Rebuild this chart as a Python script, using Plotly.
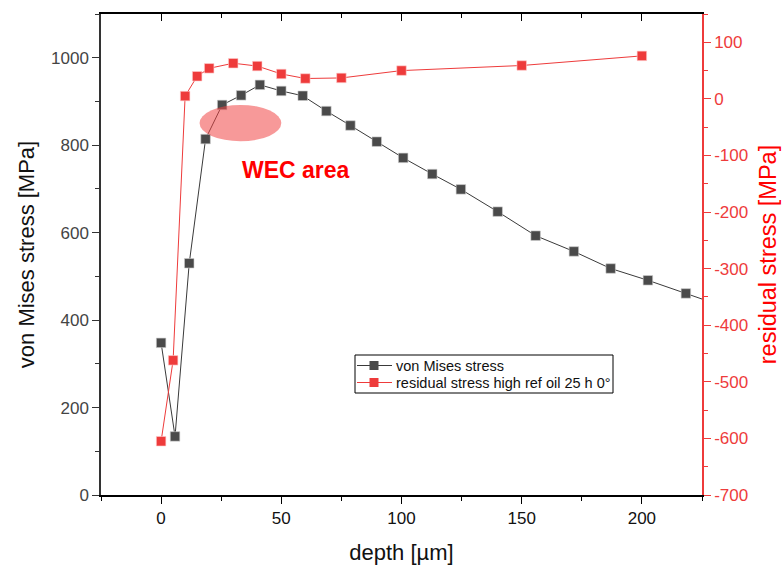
import plotly.graph_objects as go

# von Mises stress (left axis)
vm_depth = [0, 5.8, 11.7, 18.5, 25.4, 33.3, 41.1, 50, 58.9, 68.75, 78.75, 89.7,
            100.7, 112.8, 124.7, 140, 155.8, 171.7, 187, 202.5, 218.3, 234]
vm_stress = [348, 134, 530, 814, 892, 914, 938, 924, 913, 878, 845, 808,
             771, 734, 699, 648, 593, 557, 518, 491, 461, 431]

# residual stress (right axis)
rs_depth = [0, 5, 10, 15, 20, 30, 40, 50, 60, 75, 100, 150, 200]
rs_stress = [-605, -462, 5, 40, 54, 63, 58, 44, 36, 37, 50, 59, 76]

series_names = ["von Mises stress", "residual stress high ref oil 25 h 0°"]

x_range = [-25, 225]
y_left_range = [0, 1100]
y_right_range = [-700, 150]
right_tickvals = [-700, -600, -500, -400, -300, -200, -100, 0, 100]
right_ticktext = ["-700", "-600", "-500", "-400", "-300", "-200", "-100", "0", "100"]

RED = "#ee3b3b"
GRAY = "#4a4a4a"
FONT = "Liberation Sans, Arial, sans-serif"

W, H = 784, 565
ML, MR, MT, MB = 101, 82, 14, 70
PW, PH = W - ML - MR, H - MT - MB


def px(xp):
    return (xp - ML) / PW


def py(yp):
    return (H - MB - yp) / PH


fig = go.Figure()

fig.add_trace(go.Scatter(
    x=vm_depth, y=vm_stress, name=series_names[0], mode="lines+markers",
    line=dict(color="#3a3a3a", width=1),
    marker=dict(symbol="square", size=9.5, color=GRAY, line=dict(width=0.6, color="#cccccc")),
    cliponaxis=True, xaxis="x", yaxis="y", showlegend=False))

fig.add_trace(go.Scatter(
    x=rs_depth, y=rs_stress, name=series_names[1], mode="lines+markers",
    line=dict(color=RED, width=1),
    marker=dict(symbol="square", size=9.5, color=RED, line=dict(width=0.6, color="#ffcccc")),
    cliponaxis=True, xaxis="x", yaxis="y2", showlegend=False))

# dummy trace for top tick axis
fig.add_trace(go.Scatter(x=[None], y=[None], xaxis="x2", yaxis="y", showlegend=False, hoverinfo="skip"))

fig.add_shape(type="circle", xref="x", yref="y", x0=16, x1=50, y0=809, y1=892,
              fillcolor="rgba(240,70,70,0.55)", line=dict(width=0), layer="above")

fig.add_annotation(x=56.2, y=744, xref="x", yref="y", text="<b>WEC area</b>",
                   showarrow=False, font=dict(family=FONT, size=23, color="#ff0000"))

# manual legend (box, sample lines, markers, texts)
fig.add_shape(type="rect", xref="paper", yref="paper",
              x0=px(355), x1=px(613), y0=py(393), y1=py(355),
              line=dict(color="black", width=1), fillcolor="white", layer="above")
for row_y, col, lc, name in [(365.5, GRAY, "#3a3a3a", series_names[0]),
                             (382.5, RED, RED, series_names[1])]:
    fig.add_shape(type="line", xref="paper", yref="paper",
                  x0=px(357), x1=px(392), y0=py(row_y), y1=py(row_y),
                  line=dict(color=lc, width=1), layer="above")
    fig.add_shape(type="rect", xref="paper", yref="paper",
                  x0=px(369.5), x1=px(378.5), y0=py(row_y + 4.5), y1=py(row_y - 4.5),
                  line=dict(width=0), fillcolor=col, layer="above")
    fig.add_annotation(xref="paper", yref="paper", x=px(394), y=py(row_y),
                       xanchor="left", yanchor="middle", text=name, showarrow=False,
                       font=dict(family=FONT, size=14.5, color="#111"))

fig.update_layout(
    width=W, height=H,
    margin=dict(l=ML, r=MR, t=MT, b=MB),
    paper_bgcolor="white", plot_bgcolor="white",
    font=dict(family=FONT),
    showlegend=False,
    xaxis=dict(range=x_range, dtick=50, tick0=0, showgrid=False, zeroline=False, automargin=False,
               showline=True, linecolor="black", linewidth=1.5,
               ticks="outside", ticklen=7, tickcolor="black", tickwidth=1,
               minor=dict(ticks="outside", ticklen=4, dtick=25, tick0=0, tickcolor="black", showgrid=False),
               tickfont=dict(family=FONT, size=17, color="#111"),
               title=dict(text="depth [µm]", font=dict(family=FONT, size=22, color="#111"), standoff=17)),
    xaxis2=dict(range=x_range, dtick=50, tick0=0, overlaying="x", side="top", anchor="y", automargin=False,
                showgrid=False, zeroline=False, showline=True, linecolor="black", linewidth=1.5,
                ticks="inside", ticklen=7, tickcolor="black", showticklabels=False,
                minor=dict(ticks="inside", ticklen=4, dtick=25, tick0=0, tickcolor="black", showgrid=False)),
    yaxis=dict(range=y_left_range, dtick=200, tick0=0, showgrid=False, zeroline=False, automargin=False,
               showline=True, linecolor="#333", linewidth=1.5,
               ticks="outside", ticklen=7, tickcolor="#333",
               minor=dict(ticks="outside", ticklen=4, dtick=100, tick0=0, tickcolor="#333", showgrid=False),
               tickfont=dict(family=FONT, size=17, color="#444"),
               title=dict(text="von Mises stress [MPa]", font=dict(family=FONT, size=22, color="#111"), standoff=10)),
    yaxis2=dict(range=y_right_range, tickvals=right_tickvals, ticktext=right_ticktext,
                overlaying="y", side="right", anchor="x", automargin=False,
                showgrid=False, zeroline=False, showline=True, linecolor=RED, linewidth=1.5,
                ticks="outside", ticklen=7, tickcolor=RED,
                minor=dict(ticks="outside", ticklen=4, dtick=50, tick0=0, tickcolor=RED, showgrid=False),
                tickfont=dict(family=FONT, size=17, color=RED),
                title=dict(text="residual stress [MPa]", font=dict(family=FONT, size=23.5, color="#ff0000"), standoff=12)),
)

fig.write_html("out.html")
